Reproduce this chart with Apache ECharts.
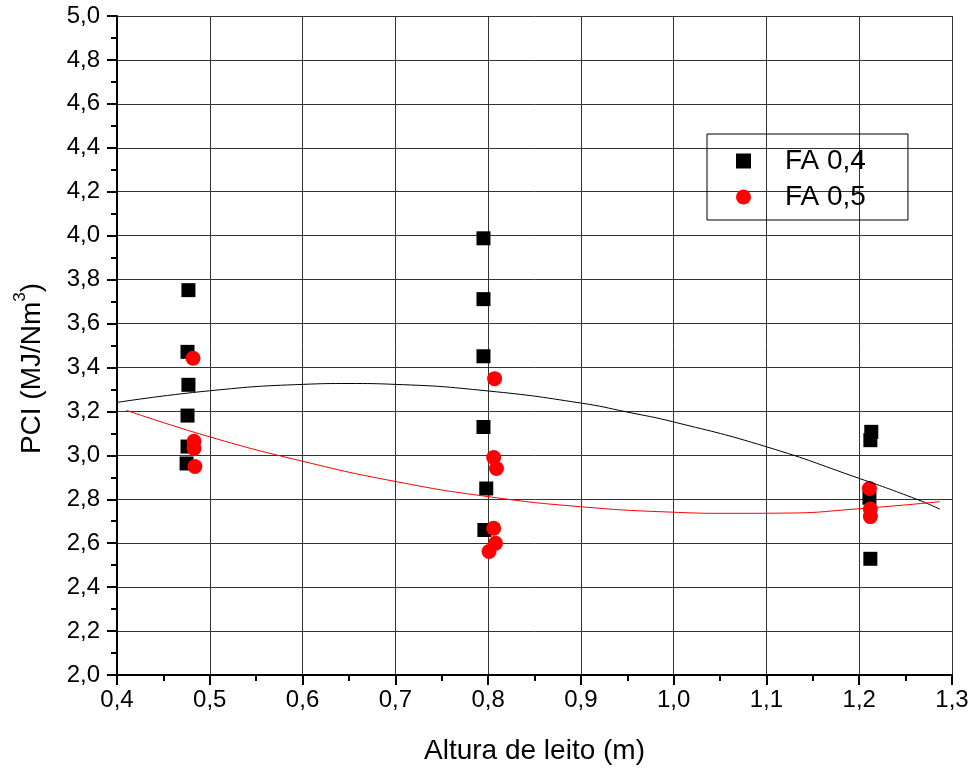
<!DOCTYPE html>
<html>
<head>
<meta charset="utf-8">
<script src="https://cdn.jsdelivr.net/npm/echarts@6/dist/echarts.min.js"></script>
<style>
  html, body { margin: 0; padding: 0; background: #fff; }
  #chart { width: 973px; height: 770px; }
</style>
</head>
<body>
<div id="chart"></div>
<script>
// pontos medidos: [altura do leito (m), PCI]
var fa04 = [
    [0.477, 3.752], [0.476, 3.471], [0.477, 3.321], [0.476, 3.181], [0.476, 3.040], [0.475, 2.963],
    [0.795, 3.988], [0.795, 3.711], [0.795, 3.451], [0.795, 3.129], [0.798, 2.849], [0.796, 2.660],
    [1.213, 3.107], [1.212, 3.069], [1.211, 2.807], [1.212, 2.529]
];
var fa05 = [
    [0.482, 3.442], [0.483, 3.064], [0.483, 3.031], [0.484, 2.949],
    [0.807, 3.349], [0.806, 2.990], [0.809, 2.940], [0.806, 2.668], [0.808, 2.600], [0.801, 2.562],
    [1.211, 2.849], [1.212, 2.756], [1.212, 2.721]
];
// curvas de ajuste
var fitFa04 = [
    [0.400, 3.241], [0.500, 3.294], [0.600, 3.323], [0.650, 3.327], [0.700, 3.323],
    [0.800, 3.293], [0.900, 3.238], [0.950, 3.197], [1.000, 3.152], [1.100, 3.039],
    [1.200, 2.895], [1.262, 2.800], [1.287, 2.755]
];
var fitFa05 = [
    [0.410, 3.205], [0.500, 3.084], [0.600, 2.973], [0.700, 2.881], [0.800, 2.812],
    [0.900, 2.766], [1.000, 2.741], [1.060, 2.736], [1.120, 2.737], [1.200, 2.757],
    [1.287, 2.789]
];
var seriesNames = ['FA 0,4', 'FA 0,5'];

var fonte = '"Liberation Sans", Arial, sans-serif';
var virgula = function (v) {
    return v.toFixed(1).replace('.', ',');
};

var chart = echarts.init(document.getElementById('chart'));
var option = {
    backgroundColor: '#fff',
    animation: false,
    grid: {
        left: 117,
        right: 21,
        top: 16,
        bottom: 93
    },
    legend: {
        data: seriesNames,
        orient: 'vertical',
        left: 707,
        top: 134,
        padding: [12, 42, 8, 29],
        itemGap: 6,
        itemWidth: 15,
        itemHeight: 15,
        borderColor: '#000',
        borderWidth: 1,
        textStyle: {
            fontFamily: fonte,
            fontSize: 28,
            color: '#000',
            lineHeight: 30,
            padding: [0, 0, 0, 29]
        }
    },
    xAxis: {
        type: 'value',
        min: 0.4,
        max: 1.3,
        interval: 0.1,
        name: 'Altura de leito (m)',
        nameLocation: 'middle',
        nameGap: 62,
        nameTextStyle: { fontFamily: fonte, fontSize: 28, color: '#000' },
        axisLine: { show: true, onZero: false, lineStyle: { color: '#000', width: 2 } },
        axisTick: { show: true, length: 10, lineStyle: { color: '#000', width: 2 } },
        minorTick: { show: true, splitNumber: 2, length: 6, lineStyle: { color: '#000', width: 2 } },
        axisLabel: {
            fontFamily: fonte, fontSize: 24, color: '#000', margin: 13,
            formatter: virgula
        },
        splitLine: { show: true, lineStyle: { color: '#333', width: 1 } }
    },
    yAxis: {
        type: 'value',
        min: 2,
        max: 5,
        interval: 0.2,
        name: '{t|PCI (MJ/Nm}{sup|3}{t|)}',
        nameLocation: 'middle',
        nameGap: 71,
        nameTextStyle: {
            fontFamily: fonte, fontSize: 28, color: '#000',
            padding: [0, 46, 0, 0],
            rich: {
                t: { fontFamily: fonte, fontSize: 28, color: '#000', lineHeight: 34, verticalAlign: 'bottom' },
                sup: { fontFamily: fonte, fontSize: 17, color: '#000', lineHeight: 34, verticalAlign: 'top', padding: [0, 0, 14, 0] }
            }
        },
        axisLine: { show: true, onZero: false, lineStyle: { color: '#000', width: 2 } },
        axisTick: { show: true, length: 10, lineStyle: { color: '#000', width: 2 } },
        minorTick: { show: true, splitNumber: 2, length: 6, lineStyle: { color: '#000', width: 2 } },
        axisLabel: {
            fontFamily: fonte, fontSize: 24, color: '#000', margin: 17,
            formatter: virgula
        },
        splitLine: { show: true, lineStyle: { color: '#333', width: 1 } }
    },
    series: [
        {
            name: seriesNames[0],
            type: 'scatter',
            symbol: 'rect',
            symbolSize: 14,
            itemStyle: { color: '#000', opacity: 1 },
            data: fa04,
            z: 3
        },
        {
            name: seriesNames[1],
            type: 'scatter',
            symbol: 'circle',
            symbolSize: 15,
            itemStyle: { color: '#ff0000', opacity: 1 },
            data: fa05,
            z: 4
        },
        {
            name: 'ajuste FA 0,4',
            type: 'line',
            smooth: true,
            showSymbol: false,
            lineStyle: { color: '#000', width: 1 },
            data: fitFa04,
            z: 5
        },
        {
            name: 'ajuste FA 0,5',
            type: 'line',
            smooth: true,
            showSymbol: false,
            lineStyle: { color: '#ff0000', width: 1 },
            data: fitFa05,
            z: 5
        }
    ]
};
chart.setOption(option);
</script>
</body>
</html>
